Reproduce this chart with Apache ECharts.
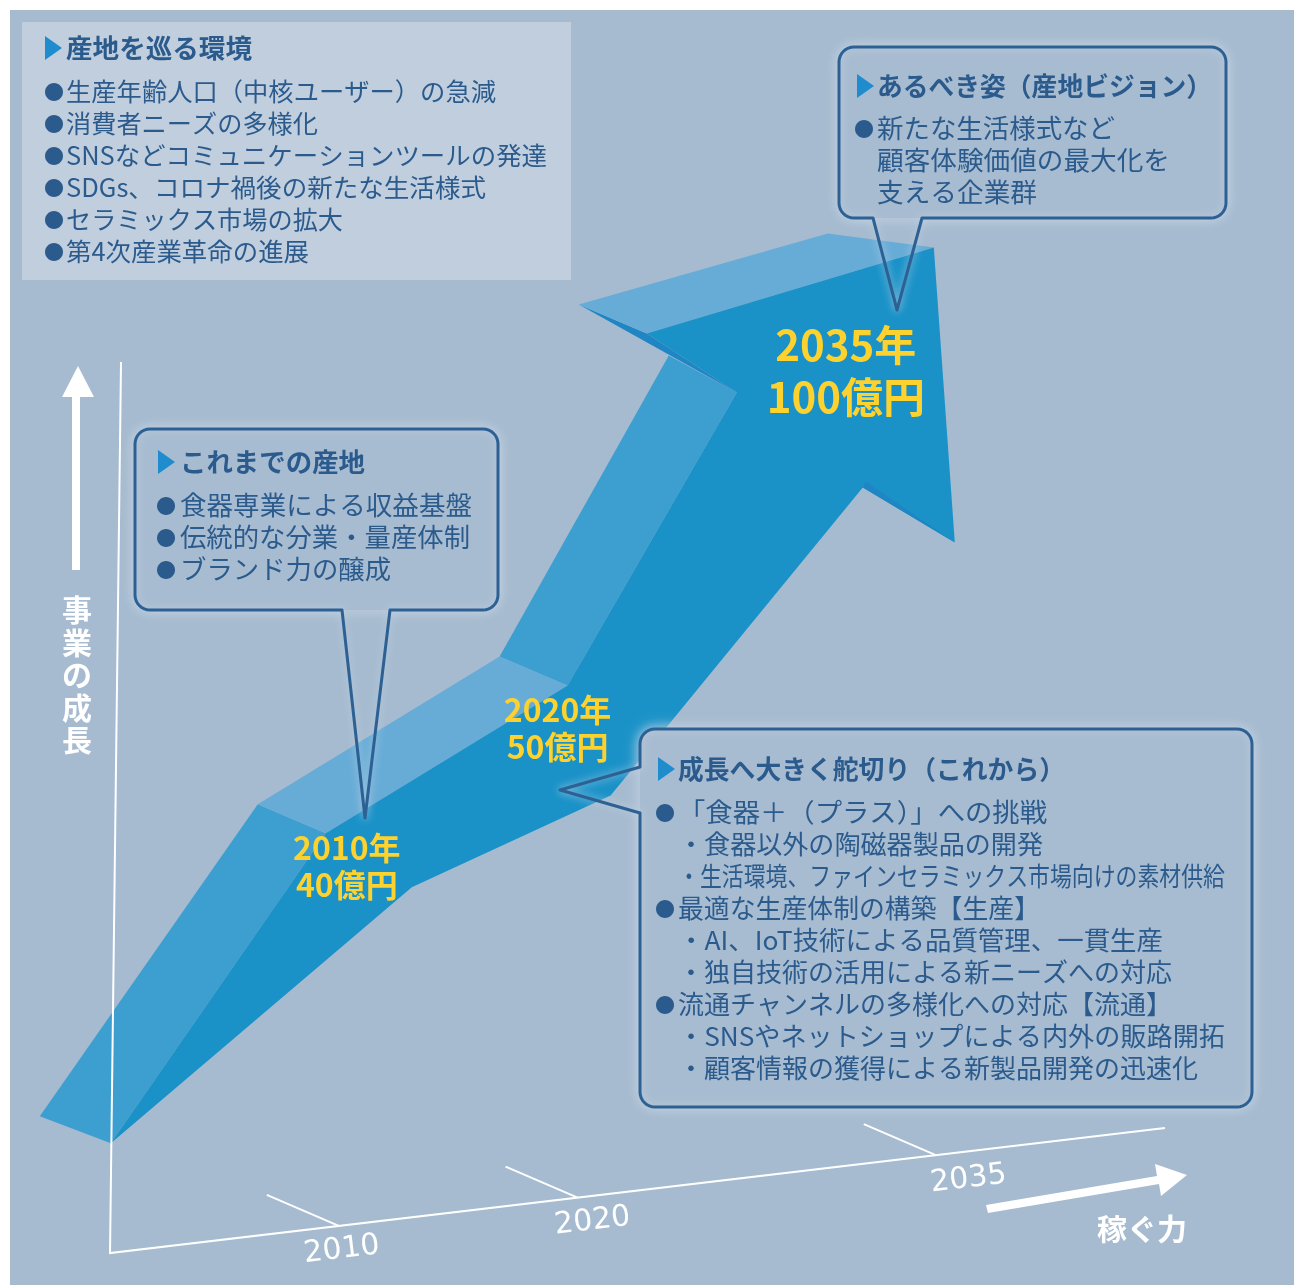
<!DOCTYPE html>
<html><head><meta charset="utf-8">
<script src="https://cdn.jsdelivr.net/npm/echarts@6/dist/echarts.min.js"></script>
<style>html,body{margin:0;padding:0;background:#fff}#c{width:1294px;height:1285px}</style>
</head><body><div id="c"></div>
<script>
// ---------- data ----------
const years = [2010, 2020, 2035];
const sales = [40, 50, 100];            // 億円
const tickYears = [2010, 2020, 2035];
const yAxisName = '事業の成長';
const xAxisName = '稼ぐ力';
const envTitle = '産地を巡る環境';
const envItems = ['●生産年齢人口（中核ユーザー）の急減', '●消費者ニーズの多様化', '●SNSなどコミュニケーションツールの発達', '●SDGs、コロナ禍後の新たな生活様式', '●セラミックス市場の拡大', '●第4次産業革命の進展'];
const pastTitle = 'これまでの産地';
const pastItems = ['●食器専業による収益基盤', '●伝統的な分業・量産体制', '●ブランド力の醸成'];
const visionTitle = 'あるべき姿（産地ビジョン）';
const visionItems = ['●新たな生活様式など', '顧客体験価値の最大化を', '支える企業群'];
const futureTitle = '成長へ大きく舵切り（これから）';
const futureItems = ['●「食器＋（プラス）」への挑戦', '・食器以外の陶磁器製品の開発', '・生活環境、ファインセラミックス市場向けの素材供給', '●最適な生産体制の構築【生産】', '・AI、IoT技術による品質管理、一貫生産', '・独自技術の活用による新ニーズへの対応', '●流通チャンネルの多様化への対応【流通】', '・SNSやネットショップによる内外の販路開拓', '・顧客情報の獲得による新製品開発の迅速化'];

// ---------- style / layout ----------
const FF = '"Noto Sans CJK JP", "Noto Sans CJK SC", sans-serif';
const TXT = '#2b5b8d';
const TRI = '#1e8ccd';
const BORDER = '#2d6193';
const mcanvas = document.createElement('canvas').getContext('2d');
function measure(str, size, bold) { mcanvas.font = (bold ? 'bold ' : '') + size + 'px ' + FF; return mcanvas.measureText(str).width; }
function txt(str, x, y, size, bold, right, z) {
  let sx = 1;
  if (right) { const w = measure(str, size, bold); sx = Math.max(0.72, Math.min(1.12, (right - x) / w)); }
  return { type: 'text', x: x, y: y, scaleX: sx, z: z || 20, silent: true,
    style: { text: str, fontSize: size, fontWeight: bold ? 'bold' : 'normal', fontFamily: FF, fill: TXT, align: 'left', verticalAlign: 'middle' } };
}
function block(title, items, L) {
  const els = [];
  els.push({ type: 'polygon', z: 20, silent: true, shape: { points: [[L.triX, L.titleY - 12], [L.triX + 17, L.titleY], [L.triX, L.titleY + 12]] }, style: { fill: TRI } });
  els.push(txt(title, L.textX, L.titleY, L.titleSize, true, L.titleRight));
  items.forEach(function (s, i) {
    const y = L.lineY0 + i * L.gap;
    let t = s;
    if (s.charAt(0) === '●') {
      els.push({ type: 'text', x: L.bulletX, y: y + 1, z: 20, silent: true, style: { text: '●', fontSize: L.bulletSize, fontFamily: FF, fill: TXT, align: 'center', verticalAlign: 'middle' } });
      t = s.slice(1);
    }
    els.push(txt(t, L.textX, y, L.size, false, L.rights[i]));
  });
  return els;
}
function arc(pts, cx, cy, r, a0, a1) {
  const n = 8;
  for (let k = 0; k <= n; k++) { const a = a0 + (a1 - a0) * k / n; pts.push([cx + r * Math.cos(a), cy + r * Math.sin(a)]); }
}
function calloutPoints(L, T, R, B, r, tail) {
  const P = Math.PI, pts = [];
  arc(pts, R - r, T + r, r, -P / 2, 0);
  arc(pts, R - r, B - r, r, 0, P / 2);
  if (tail.side === 'bottom') {
    pts.push([tail.b, B], tail.tip, [tail.a, B]);
    arc(pts, L + r, B - r, r, P / 2, P);
  } else {
    arc(pts, L + r, B - r, r, P / 2, P);
    pts.push([L, tail.b], tail.tip, [L, tail.a]);
  }
  arc(pts, L + r, T + r, r, P, 1.5 * P);
  return pts;
}
function callout(L, T, R, B, tail) {
  return [
    { type: 'rect', z: 10, silent: true, shape: { x: L, y: T, width: R - L, height: B - T, r: 15 }, style: { fill: '#a8bcd1', shadowBlur: 16, shadowColor: 'rgba(200,214,230,0.95)' } },
    { type: 'polygon', z: 11, silent: true, shape: { points: calloutPoints(L, T, R, B, 15, tail) }, style: { fill: 'none', stroke: BORDER, lineWidth: 3, lineJoin: 'round', shadowBlur: 8, shadowColor: 'rgba(200,214,230,0.8)' } }
  ];
}

let graphics = [];
graphics.push({ type: 'rect', z: 0, silent: true, shape: { x: 10, y: 10, width: 1284, height: 1275 }, style: { fill: '#a6bbd0' } });
graphics.push({ type: 'rect', z: 1, silent: true, shape: { x: 22, y: 22, width: 549, height: 258 }, style: { fill: '#c1cedd' } });
// axes frame
graphics.push({ type: 'polyline', z: 8, silent: true, shape: { points: [[121, 362], [110, 1253], [1165, 1128]] }, style: { stroke: '#ffffff', lineWidth: 2, fill: 'none' } });
graphics.push({ type: 'polygon', z: 8, silent: true, shape: { points: [[72, 570], [72, 397], [62, 397], [78, 366], [94, 397], [80, 397], [80, 570]] }, style: { fill: '#ffffff' } });
graphics.push({ type: 'polygon', z: 8, silent: true, shape: { points: [[986, 1205], [1157, 1176], [1155, 1164], [1187, 1175], [1161, 1196], [1159, 1184], [988, 1213]] }, style: { fill: '#ffffff' } });
graphics.push({ type: 'text', x: 77, y: 675, z: 8, silent: true, style: { text: yAxisName.split('').join('\n'), fontSize: 30, fontWeight: 'bold', fontFamily: FF, fill: '#ffffff', align: 'center', verticalAlign: 'middle', lineHeight: 32.5 } });
graphics.push({ type: 'text', x: 1142, y: 1229, z: 8, silent: true, style: { text: xAxisName, fontSize: 30, fontWeight: 'bold', fontFamily: FF, fill: '#ffffff', align: 'center', verticalAlign: 'middle' } });
// callouts
graphics = graphics.concat(callout(135, 429, 498, 610, { side: 'bottom', a: 342, b: 390, tip: [365, 818] }));
graphics = graphics.concat(callout(839, 47, 1226, 218, { side: 'bottom', a: 873, b: 922, tip: [897, 310] }));
graphics = graphics.concat(callout(640, 729, 1252, 1107, { side: 'left', a: 767, b: 813, tip: [560, 790] }));
// text blocks
graphics = graphics.concat(block(envTitle, envItems, { triX: 45, textX: 66, titleY: 48, titleSize: 26, titleRight: 252, bulletX: 54, bulletSize: 20, size: 25, lineY0: 91, gap: 32, rights: [496, 318, 547, 486, 343, 309] }));
graphics = graphics.concat(block(pastTitle, pastItems, { triX: 158, textX: 180, titleY: 462, titleSize: 26, titleRight: 365, bulletX: 166, bulletSize: 20, size: 26, lineY0: 505, gap: 32, rights: [472, 470, 391] }));
graphics = graphics.concat(block(visionTitle, visionItems, { triX: 857, textX: 877, titleY: 86, titleSize: 26, titleRight: 1212, bulletX: 864, bulletSize: 20, size: 26, lineY0: 128, gap: 32, rights: [1115, 1170, 1037] }));
graphics = graphics.concat(block(futureTitle, futureItems, { triX: 658, textX: 678, titleY: 769, titleSize: 26, titleRight: 1065, bulletX: 665, bulletSize: 20, size: 26, lineY0: 812, gap: 32, rights: [1047, 1043, 1225, 1040, 1163, 1172, 1172, 1225, 1198] }));

// arrow geometry (pixel offsets from the data anchors)
const C_FRONT = '#1a92c8', C_SIDE = '#3d9fd0', C_TOP = '#67acd7', C_DARK = '#1f86c3';
function add(p, d) { return [p[0] + d[0], p[1] + d[1]]; }
function renderArrow(params, api) {
  if (params.dataIndex !== 0) return null;
  const c = years.map(function (y, i) { return api.coord([y, sales[i]]); });
  const c10 = c[0], c20 = c[1], c35 = c[2];
  const D = [-68, -29];
  const F1 = add(c10, [-228, 310]), F2 = add(c10, [-13, 0]), F3 = add(c20, [-10, -5]);
  const F4 = add(c35, [-199, 145]), F5 = add(c35, [-289, 86]), F6 = add(c35, [-2, 0]);
  const F7 = add(c35, [19, 295]), F8 = add(c35, [-73, 240]), F9 = add(c20, [33, 105]), F10 = add(c10, [73, 54]);
  const H = add(c35, [-108, -14]);
  const ch = [];
  const poly = function (pts, fill) { ch.push({ type: 'polygon', shape: { points: pts }, style: { fill: fill } }); };
  poly([add(F1, [-71, -27]), add(F2, D), F2, F1], C_SIDE);
  poly([add(F2, D), add(F3, D), F3, F2], C_TOP);
  poly([add(F3, D), add(F4, [-68, -37]), F4, F3], C_SIDE);
  poly([add(F5, D), F5, F4], C_DARK);
  poly([add(F5, D), H, F6, F5], C_TOP);
  poly([F1, F2, F3, F4, F5, F6, F7, F8, F9, F10], C_FRONT);
  poly([F8, add(F8, [3, -6]), F7], C_DARK);
  // value labels
  const lab = [[8, 33, 32, 37], [-20, 38, 32, 37], [-90, 124, 42, 52]];
  years.forEach(function (y, i) {
    ch.push({ type: 'text', x: c[i][0] + lab[i][0], y: c[i][1] + lab[i][1],
      style: { text: y + '年\n' + sales[i] + '億円', fontSize: lab[i][2], lineHeight: lab[i][3], fontWeight: 'bold', fontFamily: FF, fill: '#fdd22e', align: 'center', verticalAlign: 'middle' } });
  });
  // oblique year axis ticks
  tickYears.forEach(function (ty) {
    const x = api.coord([ty, sales[0]])[0];
    const y = 1253 - (x - 110) * 125 / 1055;
    ch.push({ type: 'line', shape: { x1: x, y1: y, x2: x - 72, y2: y - 31 }, style: { stroke: '#ffffff', lineWidth: 2 } });
    ch.push({ type: 'text', x: x + 3 + (x - 340) * 0.05, y: y + 24, rotation: 0.118,
      style: { text: String(ty), fontSize: 30, fontFamily: '"DejaVu Sans", sans-serif', fill: '#ffffff', align: 'center', verticalAlign: 'middle' } });
  });
  return { type: 'group', children: ch };
}

const chart = echarts.init(document.getElementById('c'), null, { renderer: 'canvas', width: 1294, height: 1285 });
chart.setOption({
  animation: false,
  backgroundColor: '#ffffff',
  grid: { left: 100, top: 131, width: 1200, height: 886, containLabel: false },
  xAxis: { type: 'value', min: 2000, max: 2050, show: false },
  yAxis: { type: 'log', logBase: 10, min: 30, max: 120, show: false },
  graphic: { elements: graphics },
  series: [{ type: 'custom', coordinateSystem: 'cartesian2d', clip: false, z: 5, silent: true,
    data: years.map(function (y, i) { return [y, sales[i]]; }), encode: { x: 0, y: 1 }, renderItem: renderArrow }]
});
</script></body></html>
